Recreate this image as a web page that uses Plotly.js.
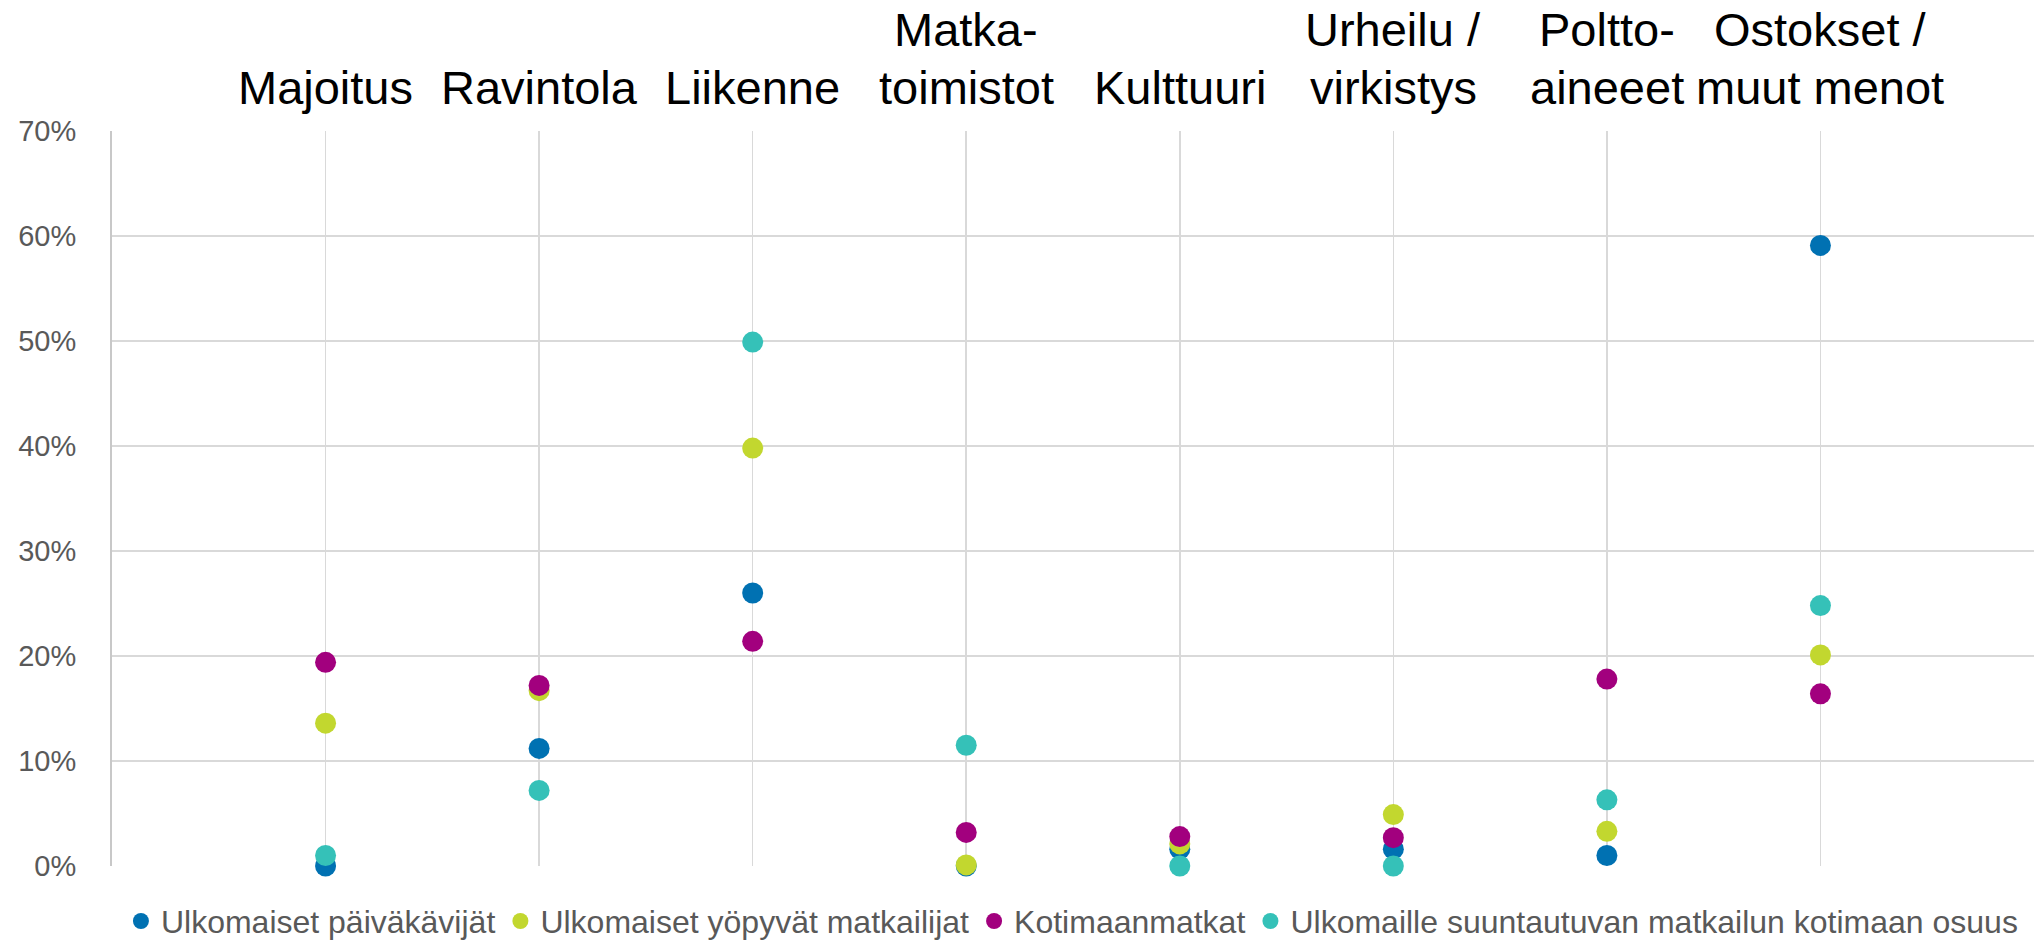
<!DOCTYPE html>
<html>
<head>
<meta charset="utf-8">
<script src="https://cdn.plot.ly/plotly-3.0.1.min.js"></script>
<style>
html,body{margin:0;padding:0;background:#fff;}
#chart{width:2034px;height:940px;}
</style>
</head>
<body>
<div id="chart"></div>
<script>
// Categories (two-line labels split with <br>)
const categories = [
  "Majoitus",
  "Ravintola",
  "Liikenne",
  "Matka-<br>toimistot",
  "Kulttuuri",
  "Urheilu /<br>virkistys",
  "Poltto-<br>aineeet",
  "Ostokset /<br>muut menot"
];
const categoryPos = [1, 2, 3, 4, 5, 6, 7, 8];

const seriesNames = [
  "Ulkomaiset päiväkävijät",
  "Ulkomaiset yöpyvät matkailijat",
  "Kotimaanmatkat",
  "Ulkomaille suuntautuvan matkailun kotimaan osuus"
];
const paivakavijat   = [0.000, 0.112, 0.260, 0.000, 0.016, 0.016, 0.010, 0.591];
const yopyvat        = [0.136, 0.167, 0.398, 0.001, 0.021, 0.049, 0.033, 0.201];
const kotimaanmatkat = [0.194, 0.172, 0.214, 0.032, 0.028, 0.027, 0.178, 0.164];
const ulkomaille     = [0.010, 0.072, 0.499, 0.115, 0.000, 0.000, 0.063, 0.248];
const seriesColors = ["#0071b2", "#c2d72f", "#a2007e", "#35c1b8"];

const yTickVals = [0, 0.1, 0.2, 0.3, 0.4, 0.5, 0.6, 0.7];

const allSeries = [paivakavijat, yopyvat, kotimaanmatkat, ulkomaille];
const traces = allSeries.map((vals, i) => ({
  type: "scatter",
  mode: "markers",
  name: seriesNames[i],
  x: categoryPos,
  y: vals,
  cliponaxis: false,
  marker: {color: seriesColors[i], size: 21, line: {width: 0}},
  hoverinfo: "name+y"
}));

const annotations = [];
categories.forEach((c, i) => {
  const lines = c.split("<br>");
  const bottom = lines[lines.length - 1];
  annotations.push({
    x: categoryPos[i], xref: "x", y: 1, yref: "paper",
    xanchor: "center", yanchor: "bottom", yshift: 15,
    text: bottom, showarrow: false,
    font: {family: "Liberation Sans, Arial, sans-serif", size: 47, color: "#000000"}
  });
  if (lines.length > 1) {
    annotations.push({
      x: categoryPos[i], xref: "x", y: 1, yref: "paper",
      xanchor: "center", yanchor: "bottom", yshift: 73,
      text: lines[0], showarrow: false,
      font: {family: "Liberation Sans, Arial, sans-serif", size: 47, color: "#000000"}
    });
  }
});

const layout = {
  width: 2034,
  height: 940,
  margin: {l: 112, r: 0, t: 131, b: 74, autoexpand: false},
  paper_bgcolor: "#ffffff",
  plot_bgcolor: "#ffffff",
  font: {family: "Liberation Sans, Arial, sans-serif", color: "#595959"},
  showlegend: true,
  legend: {
    orientation: "h",
    xref: "container",
    x: 0.527, xanchor: "center",
    yref: "container",
    y: 0.02, yanchor: "middle",
    font: {size: 32, color: "#595959"},
    itemclick: false,
    tracegroupgap: 0
  },
  xaxis: {
    range: [0, 9],
    tickvals: categoryPos,
    showticklabels: false,
    showgrid: true,
    gridcolor: "#d9d9d9",
    gridwidth: 1.5,
    zeroline: false,
    showline: false,
    ticks: ""
  },
  yaxis: {
    range: [0, 0.7],
    tickvals: yTickVals,
    tickformat: ".0%",
    showgrid: true,
    gridcolor: "#d9d9d9",
    gridwidth: 2,
    zeroline: false,
    showline: true,
    linecolor: "#c8c8c8",
    linewidth: 2,
    ticks: "",
    ticklabelstandoff: 28,
    tickfont: {size: 29, color: "#595959"}
  },
  annotations: annotations
};

Plotly.newPlot("chart", traces, layout, {displayModeBar: false, staticPlot: true});
</script>
</body>
</html>
